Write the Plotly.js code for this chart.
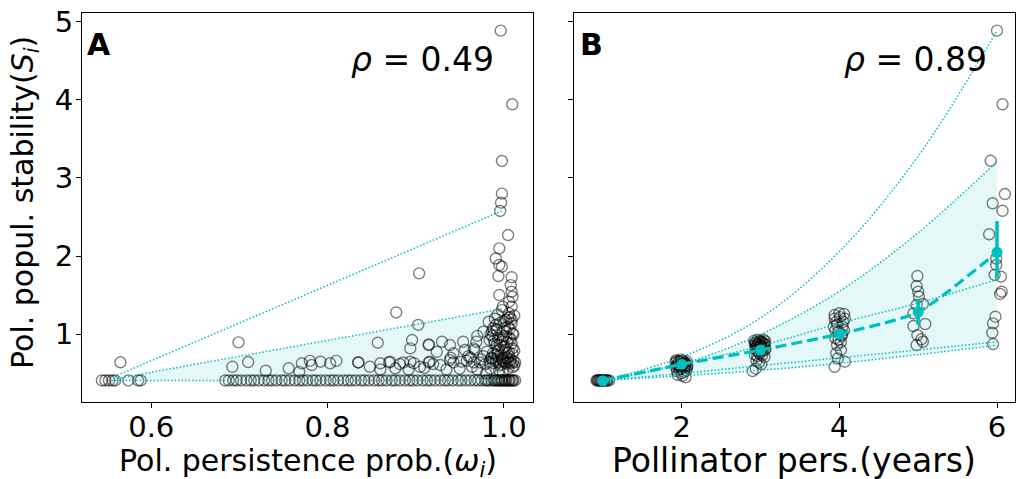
<!DOCTYPE html>
<html><head><meta charset="utf-8">
<script src="https://cdn.plot.ly/plotly-3.0.1.min.js"></script>
<style>html,body{margin:0;padding:0;background:#fff;} #chart{width:1016px;height:479px;}</style>
</head><body><div id="chart"></div>
<script>
// ---------- Panel A data: persistence probability vs stability ----------
const aOmega = [
 0.544,0.548,0.552,0.556,0.559,0.574,0.585,0.588,0.684,0.688,
 0.693,0.697,0.702,0.708,0.713,0.717,0.722,0.728,0.733,0.737,
 0.742,0.748,0.752,0.757,0.763,0.768,0.772,0.777,0.783,0.787,
 0.792,0.798,0.803,0.807,0.812,0.818,0.823,0.827,0.832,0.838,
 0.842,0.847,0.853,0.858,0.862,0.867,0.873,0.877,0.882,0.888,
 0.893,0.897,0.902,0.908,0.913,0.917,0.922,0.928,0.933,0.937,
 0.942,0.948,0.952,0.957,0.962,0.967,0.971,0.975,0.979,0.983,
 0.986,0.989,0.992,0.995,0.997,0.999,1.001,1.003,1.005,1.007,
 1.009,1.011,1.013,0.994,0.998,1.002,1.006,1.010,0.981,0.990,
 0.565,0.710,0.771,0.782,0.792,0.803,0.780,0.810,0.835,0.835,
 0.860,0.870,0.871,0.882,0.886,0.894,0.898,0.915,0.916,0.920,
 0.928,0.939,0.943,0.952,0.958,0.966,0.973,0.979,0.984,0.988,
 0.991,0.994,0.997,0.999,1.001,1.003,1.005,1.007,1.009,1.011,
 1.013,0.992,1.000,1.004,1.008,0.996,1.012,0.986,0.975,0.962,
 0.692,0.730,0.756,0.768,0.848,0.860,0.877,0.892,0.905,0.910,
 0.935,0.950,0.964,0.970,0.985,0.995,1.005,1.010,0.999,0.980,
 0.699,0.857,0.894,0.896,0.915,0.915,0.924,0.930,0.939,0.943,
 0.954,0.956,0.966,0.969,0.967,0.981,0.984,0.994,0.998,1.009,
 0.977,0.990,1.004,1.010,0.960,0.940,0.992,1.006,0.987,1.001,
 0.903,0.878,0.904,0.983,1.003,1.009,0.977,0.992,1.003,1.010,
 0.998,1.006,0.999,1.009,1.006,1.010,0.995,1.009,1.008,1.009,
 0.994,0.998,0.995,0.991,0.995,1.005,0.996,0.997,0.998,0.998,
 1.0097,0.9966,0.990,1.000,0.985,1.005,0.970,0.993,1.007,0.988,
 0.988,0.993,0.997,1.002,1.006,1.010,1.012,0.990,0.996,1.004,
 0.989,0.994,0.999,1.003,1.008,1.011,0.987,0.992,1.001,1.007,
 0.991,0.996,1.000,1.005,1.009,1.012,0.986,0.993,0.998,1.006
];
const aStab = [
 0.41,0.41,0.41,0.41,0.41,0.41,0.41,0.41,0.41,0.41,
 0.41,0.41,0.41,0.41,0.41,0.41,0.41,0.41,0.41,0.41,
 0.41,0.41,0.41,0.41,0.41,0.41,0.41,0.41,0.41,0.41,
 0.41,0.41,0.41,0.41,0.41,0.41,0.41,0.41,0.41,0.41,
 0.41,0.41,0.41,0.41,0.41,0.41,0.41,0.41,0.41,0.41,
 0.41,0.41,0.41,0.41,0.41,0.41,0.41,0.41,0.41,0.41,
 0.41,0.41,0.41,0.41,0.41,0.41,0.41,0.41,0.41,0.41,
 0.41,0.41,0.41,0.41,0.41,0.41,0.41,0.41,0.41,0.41,
 0.41,0.41,0.41,0.41,0.41,0.41,0.41,0.41,0.41,0.41,
 0.642,0.645,0.629,0.607,0.650,0.629,0.660,0.660,0.640,0.640,
 0.629,0.640,0.650,0.620,0.640,0.650,0.630,0.640,0.650,0.620,
 0.607,0.670,0.640,0.650,0.660,0.640,0.640,0.620,0.645,0.630,
 0.650,0.640,0.620,0.660,0.640,0.625,0.650,0.640,0.630,0.655,
 0.640,0.680,0.700,0.690,0.670,0.600,0.600,0.690,0.680,0.700,
 0.585,0.534,0.565,0.520,0.585,0.550,0.565,0.550,0.585,0.570,
 0.550,0.560,0.585,0.550,0.560,0.540,0.560,0.580,0.520,0.500,
 0.897,0.893,0.820,0.927,0.863,0.871,0.777,0.905,0.863,0.757,
 0.905,0.800,0.820,0.905,0.800,0.777,0.927,0.800,0.905,0.885,
 0.720,0.740,0.760,0.820,0.720,0.700,0.860,0.950,0.980,0.840,
 1.120,1.280,1.780,1.161,1.183,1.141,1.033,1.055,1.033,1.013,
 1.310,1.269,1.353,1.353,1.417,1.480,1.503,1.545,1.630,1.730,
 1.746,1.865,1.887,1.970,2.100,2.270,2.578,2.684,2.800,3.218,
 3.943,4.885,1.200,0.980,1.000,1.100,0.980,1.250,1.220,1.080,
 0.760,0.780,0.740,0.800,0.770,0.750,0.790,0.880,0.860,0.900,
 0.920,0.950,0.930,0.970,0.940,1.000,1.040,1.060,1.080,1.070,
 1.120,1.150,1.170,1.210,1.190,1.240,0.700,0.710,0.690,0.720
];
// Panel A dotted guide lines (start / end)
const aLineOmega = [0.558, 0.9977];
const aLineTop   = [0.46, 2.578];
const aLineMid   = [0.43, 1.324];
const aLineLow   = [0.41, 0.41];
const aLowOmega  = [0.551, 0.9977];

// ---------- Panel B data: pollinator persistence (years) vs stability ----------
const bYears = [
 0.92,0.93,0.94,0.95,0.96,0.97,0.98,0.99,1.00,1.01,1.02,1.04,1.05,1.06,1.08,
 1.92,1.94,1.95,1.97,1.98,2.00,2.01,2.03,2.05,2.06,1.93,1.96,1.99,2.02,2.04,2.07,1.94,1.97,2.00,2.03,2.06,1.95,2.01,2.05,2.04,
 1.93,1.96,1.99,2.02,2.05,1.94,1.98,2.01,2.04,2.07,
 2.92,2.94,2.96,2.98,3.00,3.02,3.04,3.06,2.93,2.95,2.97,2.99,3.01,3.03,3.05,2.94,2.97,3.00,3.03,3.06,2.93,2.96,2.99,3.02,3.05,2.95,2.98,3.01,2.90,2.94,
 2.93,2.96,2.99,3.02,3.05,2.94,2.97,3.00,3.03,3.06,
 3.94,4.00,4.06,3.96,4.05,3.93,4.04,3.99,4.06,3.95,4.03,3.97,4.02,3.96,3.98,3.94,3.94,4.01,4.07,3.95,4.03,3.97,3.99,4.02,4.07,
 4.99,4.98,5.00,5.01,4.98,5.06,4.94,5.09,4.94,4.99,5.04,5.06,4.98,
 6.00,6.07,5.92,6.10,5.945,6.07,5.90,5.99,5.99,5.97,6.05,6.06,6.04,5.98,5.95,5.94,5.95
];
const bStab = [
 0.41,0.41,0.41,0.41,0.41,0.41,0.41,0.41,0.41,0.41,0.41,0.41,0.41,0.41,0.41,
 0.64,0.66,0.62,0.65,0.60,0.66,0.63,0.64,0.61,0.66,0.58,0.60,0.56,0.62,0.57,0.60,0.53,0.55,0.50,0.52,0.54,0.48,0.47,0.45,0.64,
 0.67,0.65,0.68,0.66,0.63,0.61,0.59,0.62,0.60,0.58,
 0.92,0.90,0.93,0.91,0.92,0.90,0.93,0.91,0.86,0.84,0.87,0.85,0.86,0.84,0.87,0.80,0.78,0.81,0.79,0.80,0.74,0.72,0.75,0.73,0.71,0.66,0.64,0.62,0.53,0.56,
 0.89,0.88,0.90,0.89,0.88,0.83,0.82,0.84,0.83,0.82,
 1.247,1.269,1.26,1.16,1.16,1.097,1.10,1.03,1.05,0.95,0.98,0.863,0.90,0.757,0.69,0.585,1.20,1.22,1.20,1.05,1.00,1.12,0.93,0.80,0.65,
 1.746,1.618,1.545,1.481,1.375,1.388,1.269,1.132,1.106,0.99,0.936,0.905,0.863,
 4.885,3.943,3.22,2.795,2.676,2.58,2.28,1.97,1.887,1.76,1.737,1.545,1.516,1.225,1.14,1.02,0.876
];
const meanYears = [1, 2, 3, 4, 5, 6];
const meanStab  = [0.406, 0.616, 0.80, 1.004, 1.285, 2.05];
const errPlus   = [0.005, 0.02, 0.03, 0.05, 0.165, 0.40];
const errMinus  = [0.005, 0.02, 0.03, 0.05, 0.165, 0.33];
// Panel B dotted curves
const curveYears = [1, 2, 3, 4, 5, 6];
const curve1 = [0.41, 0.71, 1.21, 2.06, 3.28, 4.885];
const curve2 = [0.41, 0.62, 1.00, 1.55, 2.30, 3.21];
const curve3 = [0.41, 0.62, 0.85, 1.14, 1.40, 1.70];
const curve4 = [0.41, 0.50, 0.60, 0.70, 0.80, 0.905];
const curve5 = [0.41, 0.47, 0.54, 0.63, 0.74, 0.86];

// ---------- Tick labels ----------
const aTicks = [0.6, 0.8, 1.0];
const aTickText = ['0.6', '0.8', '1.0'];
const bTicks = [2, 4, 6];
const bTickText = ['2', '4', '6'];
const yTicks = [1, 2, 3, 4, 5];
const yTickText = ['1', '2', '3', '4', '5'];

// ---------- Styles ----------
const CYAN = '#00BFBF';
const FILL = 'rgba(0,191,191,0.10)';
const W = 1016, H = 479;
const ringMarker = {symbol:'circle', size:11, color:'rgba(0,0,0,0)', line:{color:'rgba(0,0,0,0.5)', width:1.4}};
const dotLine = {color:CYAN, width:1.5, dash:'1.5px,2px'};

const traces = [];
// Panel A fill + scatter + lines
traces.push({x:aLowOmega, y:aLineLow, xaxis:'x', yaxis:'y', mode:'lines', line:{width:0}, hoverinfo:'skip'});
traces.push({x:aLineOmega, y:aLineMid, xaxis:'x', yaxis:'y', mode:'lines', line:{width:0}, fill:'tonexty', fillcolor:FILL, hoverinfo:'skip'});
traces.push({x:aOmega, y:aStab, xaxis:'x', yaxis:'y', mode:'markers', marker:ringMarker});
traces.push({x:aLineOmega, y:aLineTop, xaxis:'x', yaxis:'y', mode:'lines', line:dotLine});
traces.push({x:aLineOmega, y:aLineMid, xaxis:'x', yaxis:'y', mode:'lines', line:dotLine});
traces.push({x:aLowOmega, y:aLineLow, xaxis:'x', yaxis:'y', mode:'lines', line:dotLine});

// Panel B fill + scatter + curves
traces.push({x:curveYears, y:curve5, xaxis:'x2', yaxis:'y2', mode:'lines', line:{width:0, shape:'spline'}, hoverinfo:'skip'});
traces.push({x:curveYears, y:curve2, xaxis:'x2', yaxis:'y2', mode:'lines', line:{width:0, shape:'spline'}, fill:'tonexty', fillcolor:FILL, hoverinfo:'skip'});
traces.push({x:bYears, y:bStab, xaxis:'x2', yaxis:'y2', mode:'markers', marker:ringMarker});
[curve1, curve2, curve3, curve4, curve5].forEach(c => {
  traces.push({x:curveYears, y:c, xaxis:'x2', yaxis:'y2', mode:'lines', line:Object.assign({shape:'spline'}, dotLine)});
});
traces.push({x:meanYears, y:meanStab, xaxis:'x2', yaxis:'y2', mode:'lines', line:{color:CYAN, width:3.2, dash:'11px,5px', shape:'spline', smoothing:0.6}});
traces.push({x:meanYears, y:meanStab, xaxis:'x2', yaxis:'y2', mode:'markers',
  marker:{color:CYAN, size:11},
  error_y:{type:'data', symmetric:false, array:errPlus, arrayminus:errMinus, color:CYAN, thickness:3.5, width:0}});

const axBase = {ticks:'outside', ticklen:5, tickwidth:1, tickcolor:'#000', showline:true, mirror:true,
  linecolor:'#000', linewidth:1, showgrid:false, zeroline:false, ticklabelstandoff:-3,
  tickfont:{size:29, color:'#000'}};
const xTickExtra = {ticklabelstandoff:-6};
const yDom = [1 - 401.7/H, 1 - 13.3/H];

const layout = {
  width:W, height:H, margin:{l:0, r:0, t:0, b:0}, showlegend:false,
  paper_bgcolor:'#fff', plot_bgcolor:'#fff',
  font:{family:'DejaVu Sans, sans-serif', color:'#000'},
  xaxis:Object.assign({}, axBase, xTickExtra, {domain:[82/W, 533.3/W], range:[0.5214, 1.0336], tickvals:aTicks, ticktext:aTickText, anchor:'y'}),
  yaxis:Object.assign({}, axBase, {domain:yDom, range:[0.138, 5.107], tickvals:yTicks, ticktext:yTickText, anchor:'x'}),
  xaxis2:Object.assign({}, axBase, xTickExtra, {domain:[574/W, 1014.5/W], range:[0.634, 6.222], tickvals:bTicks, ticktext:bTickText, anchor:'y2'}),
  yaxis2:Object.assign({}, axBase, {domain:yDom, range:[0.138, 5.107], tickvals:yTicks, showticklabels:false, anchor:'x2'}),
  annotations:[
    {text:'<b>A</b>', xref:'paper', yref:'paper', x:85/W, y:1-25/H, xanchor:'left', yanchor:'top', showarrow:false, font:{size:30}},
    {text:'<b>B</b>', xref:'paper', yref:'paper', x:578/W, y:1-25/H, xanchor:'left', yanchor:'top', showarrow:false, font:{size:30}},
    {text:'<i>ρ</i> = 0.49', xref:'paper', yref:'paper', x:349/W, y:1-38/H, xanchor:'left', yanchor:'top', showarrow:false, font:{size:33}},
    {text:'<i>ρ</i> = 0.89', xref:'paper', yref:'paper', x:842/W, y:1-38/H, xanchor:'left', yanchor:'top', showarrow:false, font:{size:33}},
    {text:'Pol. persistence prob.(<i>ω</i><sub><i>i</i></sub>)', xref:'paper', yref:'paper', x:307.5/W, y:1-441/H, xanchor:'center', yanchor:'top', showarrow:false, font:{size:30}},
    {text:'Pollinator pers.(years)', xref:'paper', yref:'paper', x:794.25/W, y:1-439/H, xanchor:'center', yanchor:'top', showarrow:false, font:{size:33}},
    {text:'Pol. popul. stability(<i>S</i><sub><i>i</i></sub>)', xref:'paper', yref:'paper', x:25/W, y:1-203/H, xanchor:'center', yanchor:'middle', textangle:-90, showarrow:false, font:{size:30}}
  ]
};

Plotly.newPlot('chart', traces, layout, {displayModeBar:false, staticPlot:true});
</script></body></html>
